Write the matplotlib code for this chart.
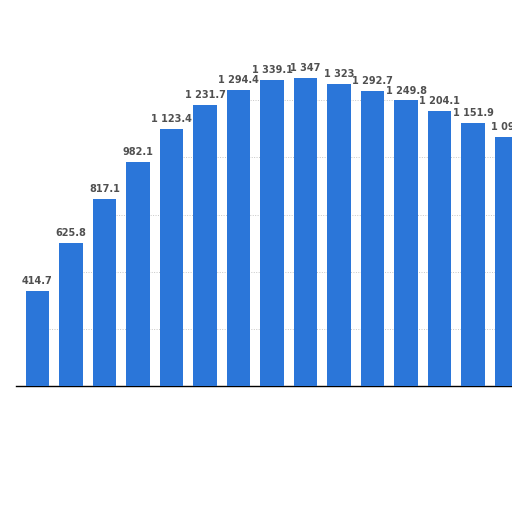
import matplotlib
matplotlib.use('Agg')
import matplotlib.pyplot as plt
import numpy as np

# bar values, left to right (last bar cut off at the right edge)
values = [414.7, 625.8, 817.1, 982.1, 1123.4, 1231.7, 1294.4, 1339.1,
          1347.0, 1323.0, 1292.7, 1249.8, 1204.1, 1151.9, 1090.0]
grid_levels = [250, 500, 750, 1000, 1250]

BAR_COLOR = '#2b76d9'
LABEL_COLOR = '#505050'


def fmt(v):
    # thousands separated by a space, one decimal unless integer
    s = f'{v:,.1f}'.replace(',', ' ')
    if s.endswith('.0'):
        s = s[:-2]
    return s


fig = plt.figure(figsize=(5.12, 5.12), dpi=100)
ax = fig.add_axes([0, 126 / 512, 1, 386 / 512])

x = np.arange(len(values))
ax.bar(x, values, width=0.69, color=BAR_COLOR, zorder=3)

# dotted gridlines only under the "cut-out" envelope of the bars
vals = np.array(values)
for lvl in grid_levels:
    above = np.where(vals > lvl)[0]
    if len(above):
        ax.hlines(lvl, above[0], above[-1] + 0.6, colors='#c8c8c8',
                  linestyles=(0, (1, 1.5)), linewidth=0.7, zorder=1)

for xi, v in zip(x, values):
    ax.annotate(fmt(v), xy=(xi, v), xytext=(0, 3.5), textcoords='offset points',
                ha='center', va='bottom', fontsize=7, fontweight='bold',
                color=LABEL_COLOR, zorder=4)

ax.set_xlim(-1.119, 14.164)
ax.set_ylim(0, 1689)
for s in ['top', 'right', 'left']:
    ax.spines[s].set_visible(False)
ax.spines['bottom'].set_bounds(-0.64, 14.164)
ax.spines['bottom'].set_linewidth(1.0)
ax.set_xticks([])
ax.set_yticks([])
ax.patch.set_alpha(0)

fig.savefig('out.png', dpi=100, facecolor='white')
